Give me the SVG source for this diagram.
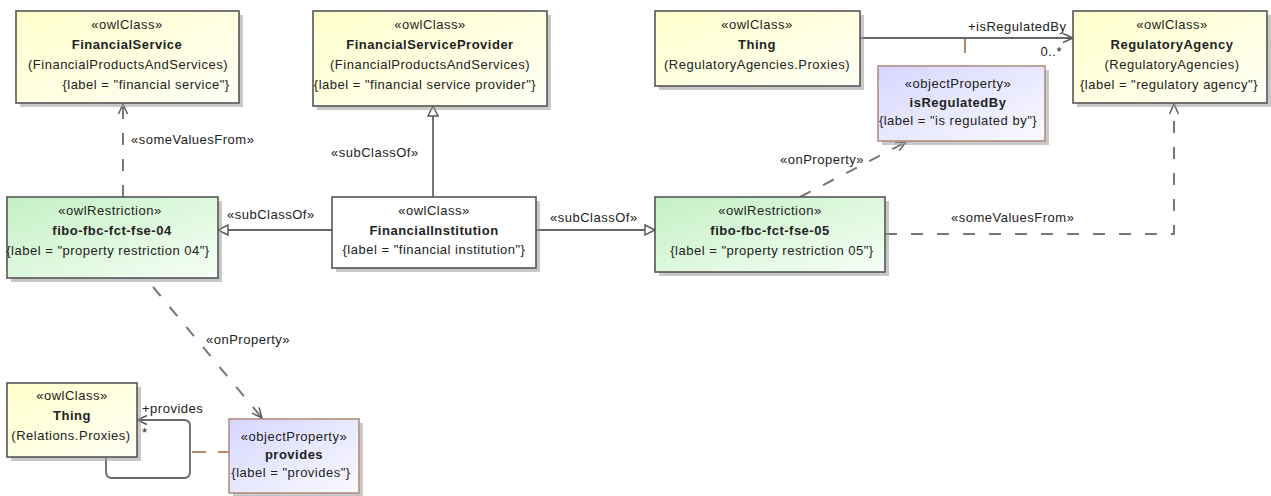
<svg xmlns="http://www.w3.org/2000/svg" width="1271" height="496" viewBox="0 0 1271 496">
<defs>
<linearGradient id="gY" x1="0" y1="0" x2="1" y2="1"><stop offset="0" stop-color="#FFFFCC"/><stop offset="1" stop-color="#FFFFF6"/></linearGradient>
<linearGradient id="gG" x1="0" y1="0" x2="1" y2="1"><stop offset="0" stop-color="#C4F0C4"/><stop offset="1" stop-color="#F6FFF6"/></linearGradient>
<linearGradient id="gP" x1="0" y1="0" x2="1" y2="1"><stop offset="0" stop-color="#D6D6FF"/><stop offset="1" stop-color="#FAFAFF"/></linearGradient>
<marker id="open" viewBox="0 0 12 12" refX="11" refY="6" markerWidth="12" markerHeight="12" markerUnits="userSpaceOnUse" orient="auto"><path d="M1,1.5 L11,6 L1,10.5" fill="none" stroke="#555" stroke-width="1.4"/></marker>
<marker id="tri" viewBox="0 0 12 12" refX="11" refY="6" markerWidth="12" markerHeight="12" markerUnits="userSpaceOnUse" orient="auto"><path d="M1,1 L11,6 L1,11 Z" fill="#fff" stroke="#555" stroke-width="1.4"/></marker>
</defs>
<style>
text{font-family:"Liberation Sans",Arial,sans-serif;font-size:13px;fill:#222;letter-spacing:0.5px}
.c{text-anchor:middle}
.b{font-weight:bold}
.sh{fill:#9a9a9a;opacity:0.55}
.box{stroke:#555;stroke-width:1.6}
.pbox{stroke:#B09080;stroke-width:1.6}
.ln{fill:none;stroke:#666;stroke-width:1.8}
.dl{fill:none;stroke:#777;stroke-width:2;stroke-dasharray:12 14}
.br{fill:none;stroke:#B08A6A;stroke-width:2;stroke-dasharray:14 12}
</style>
<g id="connectors">
<path class="dl" d="M123,197 L123,104" marker-end="url(#open)"/>
<text x="131" y="144">«someValuesFrom»</text>
<path class="ln" d="M433,197 L433,106" marker-end="url(#tri)"/>
<text x="331" y="157">«subClassOf»</text>
<path class="ln" d="M332,230 L218,230" marker-end="url(#tri)"/>
<text x="227" y="219">«subClassOf»</text>
<path class="ln" d="M536,230 L655,230" marker-end="url(#tri)"/>
<text x="550" y="222">«subClassOf»</text>
<path class="dl" d="M885,234 L1174,234 L1174,104" marker-end="url(#open)"/>
<text x="951" y="222">«someValuesFrom»</text>
<path class="dl" d="M800,197 L906,142" marker-end="url(#open)"/>
<text x="780" y="164">«onProperty»</text>
<path class="ln" d="M860,38 L1073,38" marker-end="url(#open)"/>
<text x="968" y="31">+isRegulatedBy</text>
<text x="1062" y="56" style="text-anchor:end">0..*</text>
<path class="br" d="M965,39 L965,66"/>
<path class="dl" d="M153,287 L262,418" marker-end="url(#open)"/>
<text x="206" y="344">«onProperty»</text>
<path class="ln" d="M106,457 L106,472 Q106,478 112,478 L184,478 Q190,478 190,472 L190,426 Q190,420 184,420 L137,420" marker-end="url(#open)"/>
<text x="142" y="413">+provides</text>
<text x="142" y="437">*</text>
<path class="br" d="M192,452 L229,452"/>
</g>
<g id="FinancialService">
<rect class="sh" x="20" y="15" width="223" height="92"/>
<rect class="box" x="16" y="11" width="223" height="92" fill="url(#gY)"/>
<text class="c" x="127" y="29">«owlClass»</text>
<text class="c b" x="127" y="49">FinancialService</text>
<text class="c" x="128" y="69">(FinancialProductsAndServices)</text>
<text class="c" x="146" y="89">{label = "financial service"}</text>
</g>
<g id="FinancialServiceProvider">
<rect class="sh" x="317" y="15" width="234" height="95"/>
<rect class="box" x="313" y="11" width="234" height="95" fill="url(#gY)"/>
<text class="c" x="430" y="29">«owlClass»</text>
<text class="c b" x="430" y="49">FinancialServiceProvider</text>
<text class="c" x="430" y="69">(FinancialProductsAndServices)</text>
<text class="c" x="425" y="89">{label = "financial service provider"}</text>
</g>
<g id="ThingRegulatoryAgenciesProxies">
<rect class="sh" x="659" y="15" width="205" height="75"/>
<rect class="box" x="655" y="11" width="205" height="75" fill="url(#gY)"/>
<text class="c" x="757" y="29">«owlClass»</text>
<text class="c b" x="757" y="49">Thing</text>
<text class="c" x="757" y="69">(RegulatoryAgencies.Proxies)</text>
</g>
<g id="RegulatoryAgency">
<rect class="sh" x="1077" y="15" width="194" height="92"/>
<rect class="box" x="1073" y="11" width="194" height="92" fill="url(#gY)"/>
<text class="c" x="1172" y="29">«owlClass»</text>
<text class="c b" x="1172" y="49">RegulatoryAgency</text>
<text class="c" x="1172" y="69">(RegulatoryAgencies)</text>
<text class="c" x="1169" y="89">{label = "regulatory agency"}</text>
</g>
<g id="isRegulatedBy">
<rect class="sh" x="882" y="70" width="167" height="75"/>
<rect class="pbox" x="878" y="66" width="167" height="75" fill="url(#gP)"/>
<text class="c" x="958" y="88">«objectProperty»</text>
<text class="c b" x="958" y="107">isRegulatedBy</text>
<text class="c" x="958" y="125">{label = "is regulated by"}</text>
</g>
<g id="fibo-fbc-fct-fse-04">
<rect class="sh" x="11" y="201" width="211" height="81"/>
<rect class="box" x="7" y="197" width="211" height="81" fill="url(#gG)"/>
<text class="c" x="110" y="215">«owlRestriction»</text>
<text class="c b" x="112" y="235">fibo-fbc-fct-fse-04</text>
<text class="c" x="108" y="255">{label = "property restriction 04"}</text>
</g>
<g id="FinancialInstitution">
<rect class="sh" x="336" y="201" width="204" height="71"/>
<rect class="box" x="332" y="197" width="204" height="71" fill="#FFFFFF"/>
<text class="c" x="434" y="215">«owlClass»</text>
<text class="c b" x="434" y="235">FinancialInstitution</text>
<text class="c" x="434" y="254">{label = "financial institution"}</text>
</g>
<g id="fibo-fbc-fct-fse-05">
<rect class="sh" x="659" y="201" width="230" height="75"/>
<rect class="box" x="655" y="197" width="230" height="75" fill="url(#gG)"/>
<text class="c" x="770" y="215">«owlRestriction»</text>
<text class="c b" x="770" y="235">fibo-fbc-fct-fse-05</text>
<text class="c" x="772" y="255">{label = "property restriction 05"}</text>
</g>
<g id="ThingRelationsProxies">
<rect class="sh" x="11" y="387" width="130" height="74"/>
<rect class="box" x="7" y="383" width="130" height="74" fill="url(#gY)"/>
<text class="c" x="72" y="400">«owlClass»</text>
<text class="c b" x="72" y="420">Thing</text>
<text class="c" x="71" y="440">(Relations.Proxies)</text>
</g>
<g id="provides">
<rect class="sh" x="233" y="423" width="130" height="73"/>
<rect class="pbox" x="229" y="419" width="130" height="74" fill="url(#gP)"/>
<text class="c" x="294" y="441">«objectProperty»</text>
<text class="c b" x="294" y="459">provides</text>
<text class="c" x="291" y="477">{label = "provides"}</text>
</g>
</svg>
